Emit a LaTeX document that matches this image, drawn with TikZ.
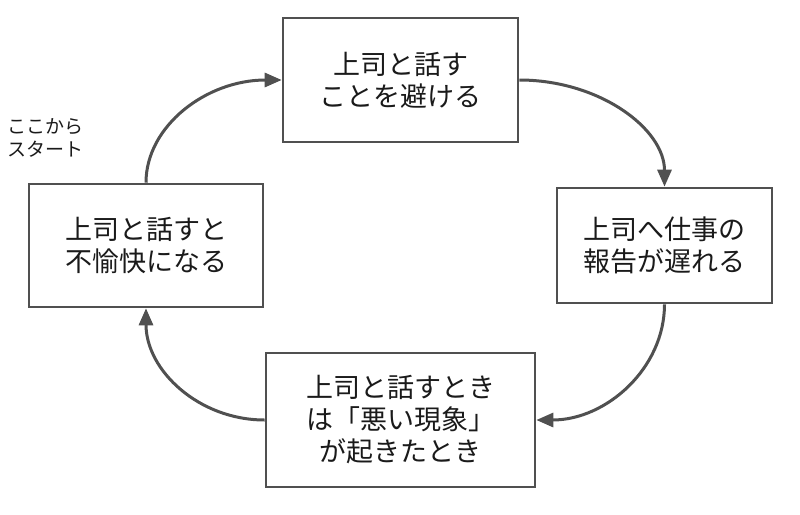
\documentclass[tikz,border=0pt]{standalone}
\usepackage{fontspec}
\setmainfont{Noto Sans CJK JP}
\usetikzlibrary{arrows.meta}
\definecolor{edge}{HTML}{505050}
\definecolor{ink}{HTML}{1A1A1A}
\tikzset{
  stepbox/.style={draw=edge, line width=2.6pt, fill=white, text=ink, align=center,
    font=\fontsize{27}{32}\selectfont, inner sep=0pt},
  flow/.style={draw=edge, line width=3pt, -{Triangle[length=17pt,width=14pt]}},
}
\begin{document}
\begin{tikzpicture}[x=1pt,y=-1pt]
\useasboundingbox (0,0) rectangle (800,514);
\node[stepbox, minimum width=235pt, minimum height=124pt] (t) at (400.5,80) {上司と話す\\ことを避ける};
\node[stepbox, minimum width=215pt, minimum height=115pt] (r) at (664.5,245.5) {上司へ仕事の\\報告が遅れる};
\node[stepbox, minimum width=269pt, minimum height=134pt] (b) at (400.5,420) {上司と話すとき\\は「悪い現象」\\が起きたとき};
\node[stepbox, minimum width=234pt, minimum height=123pt] (l) at (146,245.5) {上司と話すと\\不愉快になる};
\node[text=ink, align=left, anchor=north west, inner sep=0pt, font=\fontsize{19}{23}\selectfont] (s) at (7,118) {ここから\\スタート};
\draw[flow] (l.north) .. controls +(0,-57) and +(-75,0) .. (t.west);
\draw[flow] (t.east) .. controls +(80,0) and +(0,-58) .. (r.north);
\draw[flow] (r.south) .. controls +(0,64) and +(70,0) .. (b.east);
\draw[flow] (b.west) .. controls +(-66,0) and +(0,62) .. (l.south);
\end{tikzpicture}
\end{document}
